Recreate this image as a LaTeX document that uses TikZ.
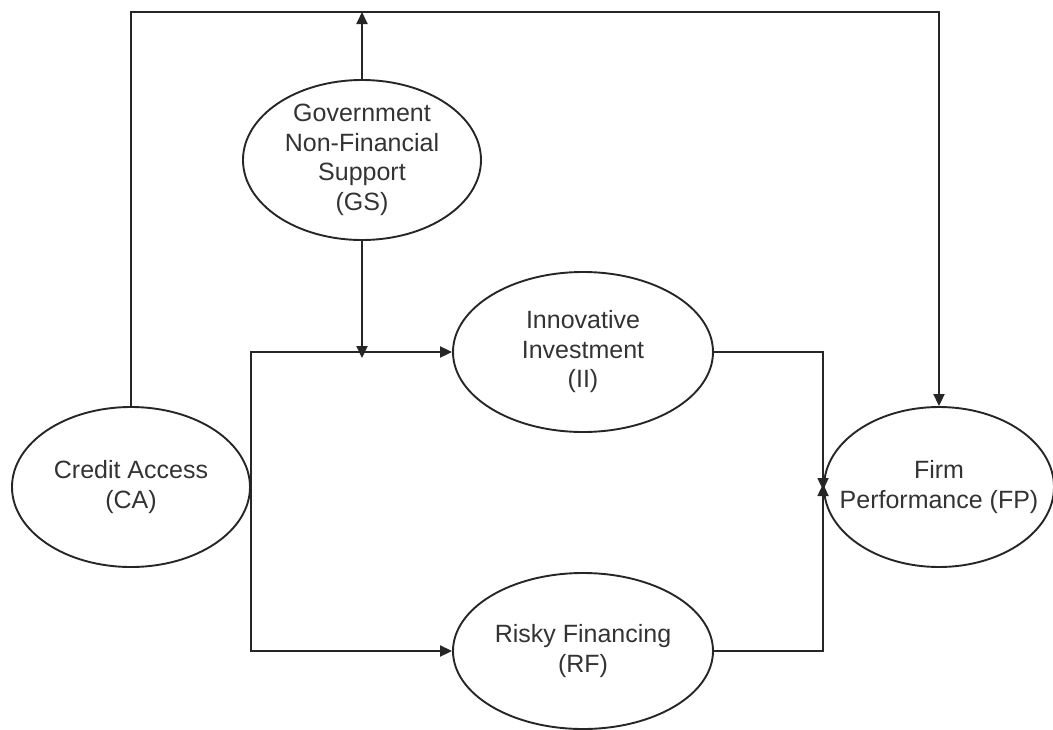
\documentclass[tikz,border=0pt]{standalone}
\usepackage{fontspec}
\setmainfont{Liberation Sans}
\usepackage{tikz}
\usetikzlibrary{shapes.geometric, arrows.meta, positioning, calc}

\begin{document}
\begin{tikzpicture}[x=1pt, y=-1pt,
    oval/.style={ellipse, draw=black!85, line width=1.9pt, inner sep=-20pt,
        align=center, text=black!80, font=\fontsize{25}{29.5}\selectfont},
    link/.style={draw=black!85, line width=1.9pt},
    arr/.style={link, -{Triangle[length=12pt,width=11pt]}}]
\useasboundingbox (0,0) rectangle (1053,729);

% Constructs
\node[oval, minimum width=238pt, minimum height=160pt] (gs) at (362,160)
    {Government\\Non-Financial\\Support\\(GS)};
\node[oval, minimum width=260pt, minimum height=160pt] (ii) at (583,352)
    {Innovative\\Investment\\(II)};
\node[oval, minimum width=238pt, minimum height=160pt] (ca) at (131,487)
    {Credit Access\\(CA)};
\node[oval, minimum width=230pt, minimum height=160pt] (fp) at (939,487)
    {Firm\\Performance (FP)};
\node[oval, minimum width=260pt, minimum height=156pt] (rf) at (583,651)
    {Risky Financing\\(RF)};

% Top line
\coordinate (top) at (0,12);
\draw[arr] (ca.north) -- (ca.north |- top) -| (fp.north);
\draw[arr] (gs.north) -- (gs.north |- top);

% Moderation
\draw[arr] (gs.south) -- ([yshift=-6pt]gs.south |- ii.west);

% Mediators
\draw[arr] (ca.east) |- (ii.west);
\draw[arr] (ca.east) |- (rf.west);
\draw[arr] (ii.east) -| ([yshift=-3pt]fp.west);
\draw[arr] (rf.east) -| ([yshift=3pt]fp.west);
\end{tikzpicture}
\end{document}
